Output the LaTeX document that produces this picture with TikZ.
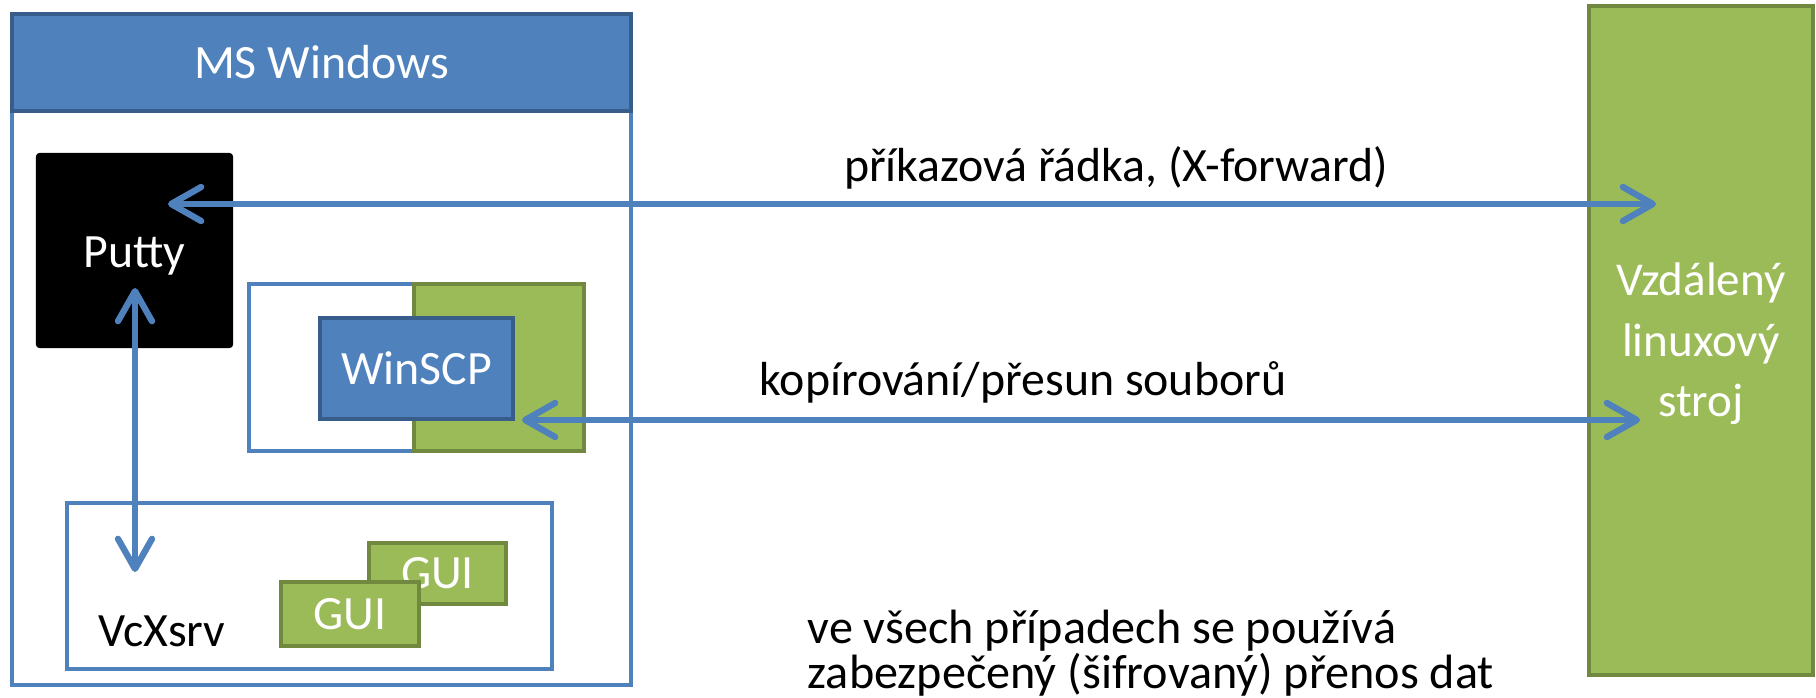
\documentclass[tikz,border=0pt]{standalone}
\usepackage{fontspec}
\setmainfont{Carlito}
\usetikzlibrary{arrows.meta}

\definecolor{winblue}{HTML}{4F81BD}
\definecolor{winedge}{HTML}{385D8A}
\definecolor{lingreen}{HTML}{9BBB59}
\definecolor{linedge}{HTML}{71893F}

\tikzset{
  blueframe/.style={draw=winblue, line width=1.2pt, fill=white, inner sep=0pt},
  bluebox/.style={draw=winedge, line width=1.2pt, fill=winblue, text=white, inner sep=0pt},
  greenbox/.style={draw=linedge, line width=1.3pt, fill=lingreen, text=white, inner sep=0pt},
  link/.style={winblue, line width=1.8pt,
    {Straight Barb[length=3mm,width=3.4mm,round]}-{Straight Barb[length=3mm,width=3.4mm,round]}},
}

\begin{document}
\begin{tikzpicture}[x=0.01cm, y=-0.01cm, font=\fontsize{13.6}{16}\selectfont]
        \useasboundingbox (0,0) rectangle (1816,697);

        \node[blueframe, minimum width=6.19cm, minimum height=6.71cm] (win) at (321.5,349.5) {};
        \node[bluebox, minimum width=6.19cm, minimum height=0.97cm] (head) at (321.5,62.5) {MS Windows};
        \node[fill=black, text=white, rounded corners=1pt, minimum width=1.97cm, minimum height=1.95cm] (putty) at (134.5,250.5) {};
        \node[text=white] (puttylbl) at (134.5,256) {Putty};

        \node[blueframe, minimum width=3.35cm, minimum height=1.67cm] (scp) at (416.5,367.5) {};
        \node[greenbox, minimum width=1.70cm, minimum height=1.67cm] (sftp) at (499,367.5) {};
        \node[bluebox, minimum width=1.93cm, minimum height=1.01cm] (winscp) at (416.5,368.5) {WinSCP};

        \node[blueframe, minimum width=4.85cm, minimum height=1.66cm] (xsrv) at (309.5,586) {};
        \node (vcx) at (162,631) {VcXsrv};
        \node[greenbox, minimum width=1.37cm, minimum height=0.61cm] (gui1) at (437.5,573.5) {GUI};
        \node[greenbox, minimum width=1.38cm, minimum height=0.64cm] (gui2) at (350,614) {GUI};

        \node[greenbox, minimum width=2.24cm, minimum height=6.69cm] (remote) at (1701,340.5) {};
        \node[text=white, align=center, font=\fontsize{13.4}{17.2}\selectfont] (remotelbl) at (1701,344)
              {Vzdálený\\linuxový\\stroj};

        \coordinate (cmdA) at (168,204);
        \coordinate (cmdB) at (1656,204);
        \coordinate (xA) at (135,288);
        \coordinate (xB) at (135,572);
        \coordinate (cpA) at (522,420);
        \coordinate (cpB) at (1640,420);

        \draw [link] (cmdA) -- (cmdB);
        \draw [link] (xA) -- (xB);
        \draw [link] (cpA) -- (cpB);

        \node (cmdlbl) at (1116,168) {příkazová řádka, (X-forward)};
        \node (cplbl) at (1023,382) {kopírování/přesun souborů};
        \node[anchor=west, align=left, inner sep=0pt, font=\fontsize{13.7}{12.6}\selectfont] (note) at (807,653)
              {ve všech případech se používá\\zabezpečený (šifrovaný) přenos dat};

    \end{tikzpicture}
\end{document}
